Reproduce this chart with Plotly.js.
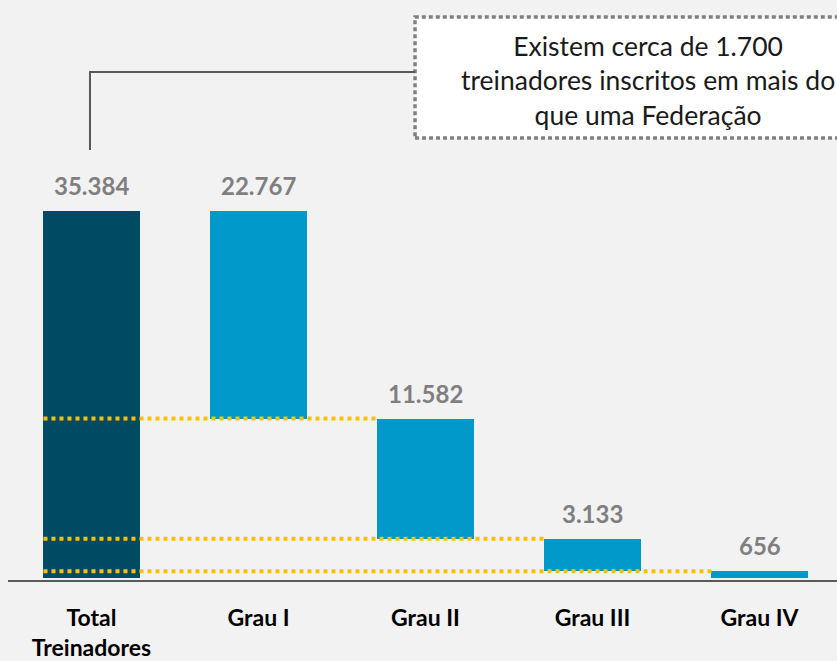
<!DOCTYPE html>
<html>
<head>
<meta charset="utf-8">
<script src="https://cdn.plot.ly/plotly-3.0.1.min.js"></script>
<style>html,body{margin:0;padding:0;background:#F2F2F2;}#chart{width:837px;height:661px;}</style>
</head>
<body>
<div id="chart"></div>
<script>
// ---- data ----
const categories = ['Total<br>Treinadores', 'Grau I', 'Grau II', 'Grau III', 'Grau IV'];
const totalTreinadores = 35384;
const grauValues = [22767, 11582, 3133, 656];
const noteText = 'Existem cerca de 1.700<br>treinadores inscritos em mais do<br>que uma Federação';

// ---- derived ----
function fmt(v) { return String(v).replace(/\B(?=(\d{3})+(?!\d))/g, '.'); }
const xs = categories.map((_, i) => i);
const bases = [0];
const heights = [totalTreinadores];
const tops = [totalTreinadores];
for (let i = 0; i < grauValues.length; i++) {
  let b = 0;
  for (let j = i + 1; j < grauValues.length; j++) b += grauValues[j];
  const top = Math.min(b + grauValues[i], totalTreinadores);
  bases.push(b); heights.push(top - b); tops.push(top);
}
const values = [totalTreinadores].concat(grauValues);
const colors = ['#004B63'].concat(grauValues.map(() => '#0099CA'));
const barW = 0.575;

const trace = {
  type: 'bar', x: xs, y: heights, base: bases, width: barW,
  marker: {color: colors, line: {width: 0}},
  hoverinfo: 'skip', showlegend: false
};

const annotations = values.map((v, i) => ({
  x: i, y: tops[i], xref: 'x', yref: 'y', text: fmt(v), showarrow: false,
  yanchor: 'bottom', yshift: 9,
  font: {family: 'Lato, sans-serif', size: 24, color: '#7F7F7F', weight: 'bold'}
}));
annotations.push({
  x: 0.772, y: 0.862, xref: 'paper', yref: 'paper', text: noteText, showarrow: false,
  xanchor: 'center', yanchor: 'middle', align: 'center',
  font: {family: 'Lato, sans-serif', size: 26.5, color: '#1A1A1A'}
});

const shapes = [];
// dotted connector lines: base of Grau bar i extends to left edge of next bar
for (let i = 1; i < values.length - 1; i++) {
  shapes.push({
    type: 'line', xref: 'x', yref: 'y',
    x0: 0 - barW / 2, x1: (i + 1) - barW / 2, y0: bases[i], y1: bases[i],
    line: {color: '#FFC000', width: 4, dash: '4px,4px'}
  });
}
// note box
shapes.push({
  type: 'rect', xref: 'paper', yref: 'paper', x0: 0.491, x1: 1.1, y0: 0.762, y1: 0.9707,
  fillcolor: '#FFFFFF', line: {color: '#808080', width: 3.5, dash: '4px,3px'}, layer: 'below'
});
// callout connector
shapes.push({
  type: 'path', xref: 'paper', yref: 'paper',
  path: 'M 0.0989 0.7414 L 0.0989 0.8759 L 0.491 0.8759',
  line: {color: '#595959', width: 2}
});

const layout = {
  width: 837, height: 661,
  margin: {l: 8, r: 0, t: 0, b: 81},
  paper_bgcolor: '#F2F2F2', plot_bgcolor: '#F2F2F2',
  bargap: 0,
  xaxis: {
    range: [-0.5, -0.5 + 829 / 167], tickvals: xs, ticktext: categories,
    showline: true, linecolor: '#595959', linewidth: 2, ticks: '', showgrid: false, zeroline: false,
    ticklabelstandoff: 16,
    tickfont: {family: 'Lato, sans-serif', size: 23, color: '#000000', weight: 'bold'}
  },
  yaxis: {range: [-192.8, 55727], visible: false, showgrid: false, zeroline: false},
  annotations: annotations,
  shapes: shapes,
  showlegend: false
};

Plotly.newPlot('chart', [trace], layout, {displayModeBar: false, staticPlot: true});
</script>
</body>
</html>
